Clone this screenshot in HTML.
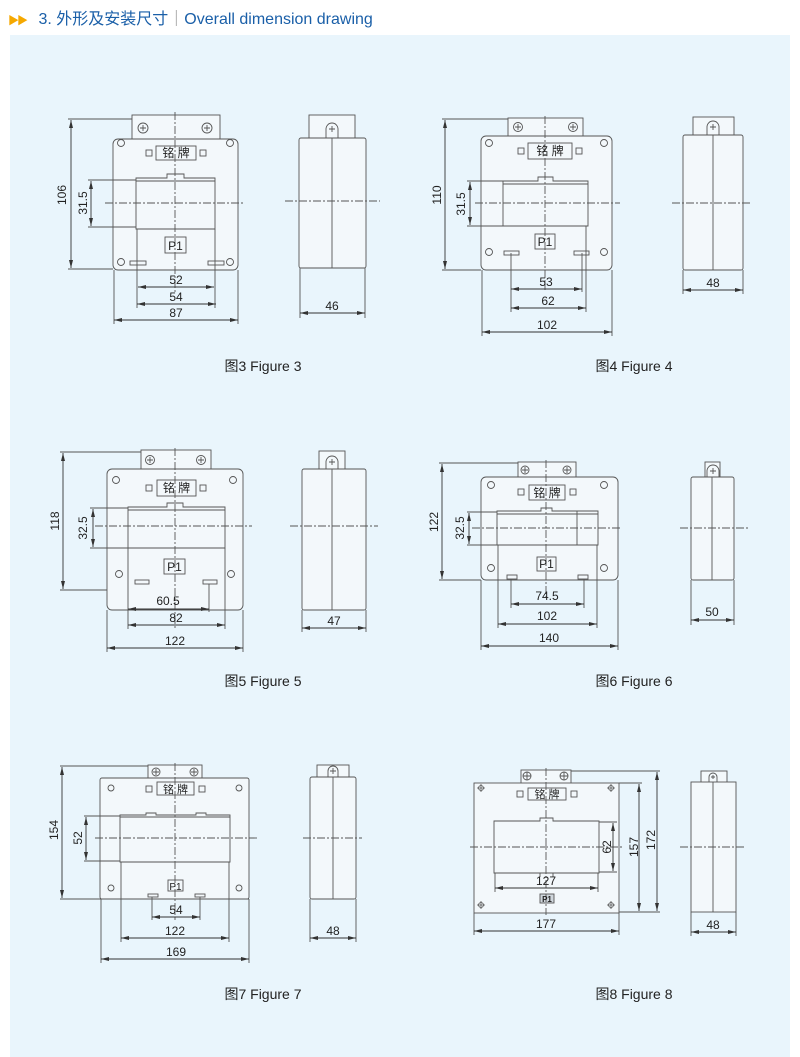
<!DOCTYPE html>
<html><head><meta charset="utf-8"><style>
html,body{margin:0;padding:0;background:#fff;}
body{width:800px;height:1057px;position:relative;overflow:hidden;font-family:"Liberation Sans","Noto Sans CJK SC",sans-serif;}
.hdr{position:absolute;left:8px;top:5px;font-size:16px;color:#1a5fa8;white-space:nowrap;}
.hdr .tri{color:#f5a800;font-size:11px;letter-spacing:-2px;margin-right:8px;}
.hdr .sep{color:#888;font-weight:normal;}
.panel{position:absolute;left:10px;top:35px;width:780px;height:1022px;background:#e9f5fc;}
svg{position:absolute;left:0;top:0;}
</style></head><body>
<div class="hdr"><span class="tri">▶▶</span> 3.  外形及安装尺寸<span class="sep">｜</span>Overall dimension drawing</div>
<div class="panel"></div>
<svg width="800" height="1057" viewBox="0 0 800 1057" font-family="Liberation Sans, Noto Sans CJK SC, sans-serif">
<defs>
<marker id="a" viewBox="0 0 8 4" refX="8" refY="2" markerWidth="8" markerHeight="4" orient="auto-start-reverse" markerUnits="userSpaceOnUse"><path d="M0,0 L8,2 L0,4z" fill="#333"/></marker>
</defs>
<g stroke="#555" stroke-width="0.9" fill="none">
<!-- ===== FIG 3 ===== -->
<rect x="132" y="115" width="88" height="24" fill="#f3f8fb"/>
<circle cx="143" cy="128" r="5"/><circle cx="207" cy="128" r="5"/>
<path d="M140,128h6M143,125v6M204,128h6M207,125v6"/>
<rect x="113" y="139" width="125" height="131" rx="5" fill="#f3f8fb"/>
<path d="M136,229 V178 H167 V174 H184 V178 H215 V229 Z" />
<line x1="136" y1="181" x2="215" y2="181"/>
<rect x="156" y="146" width="40" height="14"/>
<rect x="146" y="150" width="6" height="6"/><rect x="200" y="150" width="6" height="6"/>
<rect x="165" y="237" width="21" height="16"/>
<circle cx="121" cy="143" r="3.5"/><circle cx="230" cy="143" r="3.5"/><circle cx="121" cy="262" r="3.5"/><circle cx="230" cy="262" r="3.5"/>
<rect x="130" y="261" width="16" height="4"/><rect x="208" y="261" width="16" height="4"/>
<line x1="175" y1="112" x2="175" y2="292" stroke-dasharray="8,2,2,2"/>
<line x1="105" y1="203" x2="243" y2="203" stroke-dasharray="8,2,2,2"/>
<line x1="68" y1="119" x2="132" y2="119"/><line x1="68" y1="269" x2="113" y2="269"/>
<line x1="88" y1="180" x2="136" y2="180"/><line x1="88" y1="227" x2="136" y2="227"/>
<line x1="137" y1="229" x2="137" y2="308"/><line x1="215" y1="229" x2="215" y2="308"/>
<line x1="114" y1="270" x2="114" y2="324"/><line x1="238" y1="270" x2="238" y2="324"/>
<!-- side 3 -->
<rect x="309" y="115" width="46" height="23" fill="#f3f8fb"/>
<path d="M326,138 V129 A6,6 0 0 1 338,129 V138"/>
<path d="M329,129h6M332,126v6"/>
<rect x="299" y="138" width="67" height="130" rx="2" fill="#f3f8fb"/>
<line x1="332" y1="138" x2="332" y2="268"/>
<line x1="285" y1="201" x2="380" y2="201" stroke-dasharray="8,2,2,2"/>
<line x1="300" y1="268" x2="300" y2="318"/><line x1="365" y1="268" x2="365" y2="318"/>

<!-- ===== FIG 4 ===== -->
<rect x="508" y="118" width="75" height="18" fill="#f3f8fb"/>
<circle cx="518" cy="127" r="4.5"/><circle cx="573" cy="127" r="4.5"/>
<path d="M515,127h6M518,124v6M570,127h6M573,124v6"/>
<rect x="481" y="136" width="131" height="134" rx="5" fill="#f3f8fb"/>
<path d="M503,226 V181 H538 V177 H553 V181 H588 V226 Z"/>
<line x1="503" y1="184" x2="588" y2="184"/>
<rect x="528" y="143" width="44" height="16"/>
<rect x="518" y="148" width="6" height="6"/><rect x="576" y="148" width="6" height="6"/>
<rect x="535" y="234" width="20" height="15"/>
<circle cx="489" cy="143" r="3.5"/><circle cx="604" cy="143" r="3.5"/><circle cx="489" cy="252" r="3.5"/><circle cx="604" cy="252" r="3.5"/>
<rect x="504" y="251" width="15" height="4"/><rect x="574" y="251" width="15" height="4"/>
<line x1="545" y1="116" x2="545" y2="290" stroke-dasharray="8,2,2,2"/>
<line x1="475" y1="203" x2="620" y2="203" stroke-dasharray="8,2,2,2"/>
<line x1="442" y1="119" x2="508" y2="119"/><line x1="442" y1="270" x2="481" y2="270"/>
<line x1="467" y1="181" x2="503" y2="181"/><line x1="467" y1="226" x2="503" y2="226"/>
<line x1="511" y1="253" x2="511" y2="312"/><line x1="586" y1="226" x2="586" y2="312"/><line x1="582" y1="253" x2="582" y2="292"/>
<line x1="482" y1="270" x2="482" y2="336"/><line x1="612" y1="270" x2="612" y2="336"/>
<rect x="693" y="117" width="41" height="18" fill="#f3f8fb"/>
<path d="M707,135 V127 A6,6 0 0 1 719,127 V135"/>
<path d="M710,127h6M713,124v6"/>
<rect x="683" y="135" width="60" height="135" rx="2" fill="#f3f8fb"/>
<line x1="713" y1="135" x2="713" y2="270"/>
<line x1="672" y1="203" x2="752" y2="203" stroke-dasharray="8,2,2,2"/>
<line x1="683" y1="270" x2="683" y2="294"/><line x1="743" y1="270" x2="743" y2="294"/>

<!-- ===== FIG 5 ===== -->
<rect x="141" y="450" width="70" height="20" fill="#f3f8fb"/>
<circle cx="150" cy="460" r="4.5"/><circle cx="201" cy="460" r="4.5"/>
<path d="M147,460h6M150,457v6M198,460h6M201,457v6"/>
<rect x="107" y="469" width="136" height="141" rx="5" fill="#f3f8fb"/>
<path d="M128,548 V507 H167 V503 H183 V507 H225 V548 Z"/>
<line x1="128" y1="510" x2="225" y2="510"/>
<rect x="157" y="480" width="39" height="16"/>
<rect x="146" y="485" width="6" height="6"/><rect x="200" y="485" width="6" height="6"/>
<rect x="164" y="559" width="21" height="15"/>
<circle cx="116" cy="480" r="3.5"/><circle cx="233" cy="480" r="3.5"/><circle cx="119" cy="574" r="3.5"/><circle cx="231" cy="574" r="3.5"/>
<rect x="135" y="580" width="14" height="4"/><rect x="203" y="580" width="14" height="4"/>
<line x1="175" y1="448" x2="175" y2="630" stroke-dasharray="8,2,2,2"/>
<line x1="95" y1="526" x2="252" y2="526" stroke-dasharray="8,2,2,2"/>
<line x1="60" y1="452" x2="141" y2="452"/><line x1="60" y1="590" x2="107" y2="590"/>
<line x1="90" y1="508" x2="128" y2="508"/><line x1="90" y1="548" x2="128" y2="548"/>
<line x1="128" y1="548" x2="128" y2="629"/><line x1="225" y1="548" x2="225" y2="629"/><line x1="209" y1="584" x2="209" y2="612"/>
<line x1="107" y1="610" x2="107" y2="652"/><line x1="243" y1="610" x2="243" y2="652"/>
<rect x="319" y="451" width="26" height="19" fill="#f3f8fb"/>
<path d="M326,470 V462 A6,6 0 0 1 338,462 V470"/>
<path d="M329,462h6M332,459v6"/>
<rect x="302" y="469" width="64" height="141" rx="2" fill="#f3f8fb"/>
<line x1="332" y1="469" x2="332" y2="610"/>
<line x1="290" y1="526" x2="378" y2="526" stroke-dasharray="8,2,2,2"/>
<line x1="302" y1="610" x2="302" y2="632"/><line x1="366" y1="610" x2="366" y2="632"/>

<!-- ===== FIG 6 ===== -->
<rect x="518" y="462" width="58" height="16" fill="#f3f8fb"/>
<circle cx="525" cy="470" r="4"/><circle cx="567" cy="470" r="4"/>
<path d="M522,470h6M525,467v6M564,470h6M567,467v6"/>
<rect x="481" y="477" width="137" height="103" rx="5" fill="#f3f8fb"/>
<path d="M497,545 V511 H541 V508 H552 V511 H598 V545 Z"/>
<line x1="497" y1="514" x2="598" y2="514"/><line x1="577" y1="511" x2="577" y2="545"/>
<rect x="529" y="485" width="36" height="15"/>
<rect x="518" y="489" width="6" height="6"/><rect x="570" y="489" width="6" height="6"/>
<rect x="537" y="557" width="19" height="14"/>
<circle cx="491" cy="485" r="3.5"/><circle cx="604" cy="485" r="3.5"/><circle cx="491" cy="568" r="3.5"/><circle cx="604" cy="568" r="3.5"/>
<rect x="507" y="575" width="10" height="4"/><rect x="578" y="575" width="10" height="4"/>
<line x1="546" y1="460" x2="546" y2="600" stroke-dasharray="8,2,2,2"/>
<line x1="472" y1="528" x2="622" y2="528" stroke-dasharray="8,2,2,2"/>
<line x1="439" y1="463" x2="518" y2="463"/><line x1="439" y1="580" x2="481" y2="580"/>
<line x1="467" y1="512" x2="497" y2="512"/><line x1="467" y1="545" x2="497" y2="545"/>
<line x1="511" y1="579" x2="511" y2="608"/><line x1="584" y1="579" x2="584" y2="608"/>
<line x1="498" y1="545" x2="498" y2="628"/><line x1="597" y1="545" x2="597" y2="628"/>
<line x1="481" y1="580" x2="481" y2="650"/><line x1="618" y1="580" x2="618" y2="650"/>
<rect x="705" y="462" width="15" height="16" fill="#f3f8fb"/>
<path d="M707,478 V471 A6,6 0 0 1 719,471 V478"/>
<path d="M710,471h6M713,468v6"/>
<rect x="691" y="477" width="43" height="103" rx="2" fill="#f3f8fb"/>
<line x1="712" y1="477" x2="712" y2="580"/>
<line x1="680" y1="528" x2="748" y2="528" stroke-dasharray="8,2,2,2"/>
<line x1="691" y1="580" x2="691" y2="625"/><line x1="734" y1="580" x2="734" y2="625"/>

<!-- ===== FIG 7 ===== -->
<rect x="148" y="765" width="54" height="13" fill="#f3f8fb"/>
<circle cx="156" cy="772" r="4"/><circle cx="194" cy="772" r="4"/>
<path d="M153,772h6M156,769v6M191,772h6M194,769v6"/>
<rect x="100" y="778" width="149" height="121" rx="2" fill="#f3f8fb"/>
<path d="M120,862 V815 H146 V813 H156 V815 H196 V813 H206 V815 H230 V862 Z"/>
<line x1="120" y1="817" x2="230" y2="817"/>
<rect x="157" y="782" width="37" height="13"/>
<rect x="146" y="786" width="6" height="6"/><rect x="199" y="786" width="6" height="6"/>
<rect x="168" y="880" width="15" height="11"/>
<circle cx="111" cy="788" r="3"/><circle cx="239" cy="788" r="3"/><circle cx="111" cy="888" r="3"/><circle cx="239" cy="888" r="3"/>
<rect x="148" y="894" width="10" height="3"/><rect x="195" y="894" width="10" height="3"/>
<line x1="175" y1="763" x2="175" y2="920" stroke-dasharray="8,2,2,2"/>
<line x1="95" y1="838" x2="257" y2="838" stroke-dasharray="8,2,2,2"/>
<line x1="60" y1="766" x2="148" y2="766"/><line x1="60" y1="899" x2="249" y2="899"/>
<line x1="84" y1="816" x2="120" y2="816"/><line x1="84" y1="861" x2="120" y2="861"/>
<line x1="152" y1="897" x2="152" y2="920"/><line x1="200" y1="897" x2="200" y2="920"/>
<line x1="121" y1="862" x2="121" y2="942"/><line x1="229" y1="862" x2="229" y2="942"/>
<line x1="101" y1="899" x2="101" y2="963"/><line x1="249" y1="899" x2="249" y2="963"/>
<rect x="317" y="765" width="32" height="13" fill="#f3f8fb"/>
<path d="M328,777 V771 A5,5 0 0 1 338,771 V777"/>
<path d="M330,771h6M333,768v6"/>
<rect x="310" y="777" width="46" height="122" rx="2" fill="#f3f8fb"/>
<line x1="333" y1="777" x2="333" y2="899"/>
<line x1="303" y1="838" x2="362" y2="838" stroke-dasharray="8,2,2,2"/>
<line x1="310" y1="899" x2="310" y2="942"/><line x1="356" y1="899" x2="356" y2="942"/>

<!-- ===== FIG 8 ===== -->
<rect x="521" y="770" width="50" height="14" fill="#f3f8fb"/>
<circle cx="527" cy="776" r="4"/><circle cx="564" cy="776" r="4"/>
<path d="M523,776h8M527,772v8M560,776h8M564,772v8"/>
<rect x="474" y="783" width="145" height="130" fill="#f3f8fb"/>
<path d="M494,873 V821 H540 V818 H553 V821 H599 V873 Z"/>
<line x1="540" y1="873" x2="540" y2="877"/><line x1="553" y1="873" x2="553" y2="877"/>
<rect x="528" y="788" width="38" height="12"/>
<rect x="517" y="791" width="6" height="6"/><rect x="571" y="791" width="6" height="6"/>
<rect x="540" y="894" width="14" height="9" fill="#cfd6dc"/>
<g stroke-width="0.8"><circle cx="481" cy="788" r="2.5"/><circle cx="611" cy="788" r="2.5"/><circle cx="481" cy="905" r="2.5"/><circle cx="611" cy="905" r="2.5"/>
<path d="M477,788h8M481,784v8M607,788h8M611,784v8M477,905h8M481,901v8M607,905h8M611,901v8"/></g>
<line x1="546" y1="768" x2="546" y2="915" stroke-dasharray="8,2,2,2"/>
<line x1="470" y1="847" x2="622" y2="847" stroke-dasharray="8,2,2,2"/>
<line x1="599" y1="822" x2="617" y2="822"/><line x1="599" y1="872" x2="617" y2="872"/>
<line x1="619" y1="783" x2="642" y2="783"/><line x1="571" y1="771" x2="660" y2="771"/>
<line x1="619" y1="912" x2="660" y2="912"/>
<line x1="495" y1="873" x2="495" y2="892"/><line x1="598" y1="873" x2="598" y2="892"/>
<line x1="474" y1="913" x2="474" y2="935"/><line x1="619" y1="913" x2="619" y2="935"/>
<rect x="701" y="771" width="26" height="12" fill="#f3f8fb"/>
<path d="M709,782 V777 A4,4 0 0 1 717,777 V782"/>
<path d="M711,777h4M713,775v4"/>
<rect x="691" y="782" width="45" height="130" fill="#f3f8fb"/>
<line x1="713" y1="782" x2="713" y2="912"/>
<line x1="680" y1="847" x2="744" y2="847" stroke-dasharray="8,2,2,2"/>
<line x1="691" y1="912" x2="691" y2="936"/><line x1="736" y1="912" x2="736" y2="936"/>
</g>

<!-- dimension lines with arrows -->
<g stroke="#333" stroke-width="0.9" marker-start="url(#a)" marker-end="url(#a)">
<line x1="71" y1="120" x2="71" y2="268"/><line x1="91" y1="181" x2="91" y2="226"/>
<line x1="138" y1="287" x2="214" y2="287"/><line x1="137" y1="304" x2="216" y2="304"/><line x1="114" y1="320" x2="238" y2="320"/>
<line x1="300" y1="313" x2="365" y2="313"/>
<line x1="445" y1="120" x2="445" y2="269"/><line x1="470" y1="182" x2="470" y2="225"/>
<line x1="511" y1="289" x2="582" y2="289"/><line x1="511" y1="308" x2="586" y2="308"/><line x1="482" y1="332" x2="612" y2="332"/>
<line x1="683" y1="290" x2="743" y2="290"/>
<line x1="63" y1="453" x2="63" y2="589"/><line x1="93" y1="509" x2="93" y2="547"/>
<line x1="128" y1="609" x2="209" y2="609"/><line x1="128" y1="625" x2="225" y2="625"/><line x1="107" y1="648" x2="243" y2="648"/>
<line x1="302" y1="628" x2="366" y2="628"/>
<line x1="442" y1="464" x2="442" y2="579"/><line x1="469" y1="513" x2="469" y2="544"/>
<line x1="511" y1="604" x2="584" y2="604"/><line x1="498" y1="624" x2="597" y2="624"/><line x1="481" y1="646" x2="618" y2="646"/>
<line x1="691" y1="620" x2="734" y2="620"/>
<line x1="62" y1="767" x2="62" y2="898"/><line x1="86" y1="817" x2="86" y2="860"/>
<line x1="152" y1="917" x2="200" y2="917"/><line x1="121" y1="938" x2="229" y2="938"/><line x1="101" y1="959" x2="249" y2="959"/>
<line x1="310" y1="938" x2="356" y2="938"/>
<line x1="613" y1="823" x2="613" y2="871"/><line x1="639" y1="784" x2="639" y2="911"/><line x1="657" y1="772" x2="657" y2="911"/>
<line x1="495" y1="888" x2="598" y2="888"/><line x1="474" y1="931" x2="619" y2="931"/>
<line x1="691" y1="932" x2="736" y2="932"/>
</g>

<!-- labels -->
<g fill="#222" font-size="12" text-anchor="middle">
<text x="176" y="157" font-size="12">铭 牌</text><text x="175.5" y="250">P1</text>
<text x="550" y="155" font-size="12">铭 牌</text><text x="545" y="246">P1</text>
<text x="176.5" y="492" font-size="12">铭 牌</text><text x="174.5" y="571">P1</text>
<text x="547" y="497" font-size="12">铭 牌</text><text x="546.5" y="568">P1</text>
<text x="175.5" y="793" font-size="11">铭 牌</text><text x="175.5" y="890" font-size="10">P1</text>
<text x="547" y="798" font-size="11">铭 牌</text><text x="547" y="902" font-size="8" font-weight="bold">P1</text>

<text x="176" y="284">52</text><text x="176" y="301">54</text><text x="176" y="317">87</text><text x="332" y="310">46</text>
<text x="546" y="286">53</text><text x="548" y="305">62</text><text x="547" y="329">102</text><text x="713" y="287">48</text>
<text x="168" y="605">60.5</text><text x="176" y="622">82</text><text x="175" y="645">122</text><text x="334" y="625">47</text>
<text x="547" y="600">74.5</text><text x="547" y="620">102</text><text x="549" y="642">140</text><text x="712" y="616">50</text>
<text x="176" y="914">54</text><text x="175" y="935">122</text><text x="176" y="956">169</text><text x="333" y="935">48</text>
<text x="546" y="885">127</text><text x="546" y="928">177</text><text x="713" y="929">48</text>

<text transform="translate(66,195) rotate(-90)">106</text>
<text transform="translate(87,203) rotate(-90)">31.5</text>
<text transform="translate(441,195) rotate(-90)">110</text>
<text transform="translate(465,204) rotate(-90)">31.5</text>
<text transform="translate(59,521) rotate(-90)">118</text>
<text transform="translate(87,528) rotate(-90)">32.5</text>
<text transform="translate(438,522) rotate(-90)">122</text>
<text transform="translate(464,528) rotate(-90)">32.5</text>
<text transform="translate(58,830) rotate(-90)">154</text>
<text transform="translate(82,838) rotate(-90)">52</text>
<text transform="translate(611,847) rotate(-90)">62</text>
<text transform="translate(638,847) rotate(-90)">157</text>
<text transform="translate(655,840) rotate(-90)">172</text>
</g>
<g fill="#222" font-size="14" text-anchor="middle">
<text x="263" y="371">图3  Figure 3</text>
<text x="634" y="371">图4  Figure 4</text>
<text x="263" y="686">图5  Figure 5</text>
<text x="634" y="686">图6  Figure 6</text>
<text x="263" y="999">图7  Figure 7</text>
<text x="634" y="999">图8  Figure 8</text>
</g>
</svg>
</body></html>
